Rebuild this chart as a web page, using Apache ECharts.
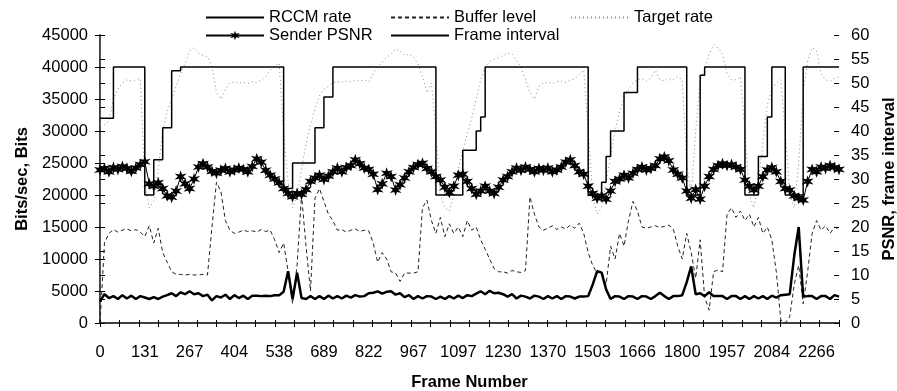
<!DOCTYPE html>
<html>
<head>
<meta charset="utf-8">
<script src="https://cdn.jsdelivr.net/npm/echarts@6/dist/echarts.min.js"></script>
<style>
html,body{margin:0;padding:0;background:#fff;}
#c{width:897px;height:391px;}
</style>
</head>
<body>
<div id="c"></div>
<script>
// ---- tick labels on the frame axis (every 10th category) ----
const xTickLabels = ['0','131','267','404','538','689','822','967','1097','1230','1370','1503','1666','1800','1957','2084','2266'];
const categoryCount = 166;

// ---- series values (one value per category) ----
const rccmRate = [
32000,32000,32000,40000,40000,40000,40000,40000,40000,40000,
20000,20000,25500,25500,30500,30500,39400,39400,40000,40000,
40000,40000,40000,40000,40000,40000,40000,40000,40000,40000,
40000,40000,40000,40000,40000,40000,40000,40000,40000,40000,
40000,21000,21000,25000,25000,25000,25000,25000,30500,30500,
35300,35300,40000,40000,40000,40000,40000,40000,40000,40000,
40000,40000,40000,40000,40000,40000,40000,40000,40000,40000,
40000,40000,40000,40000,40000,20000,20000,20000,20000,20000,
20000,27000,27000,27000,30000,32200,40000,40000,40000,40000,
40000,40000,40000,40000,40000,40000,40000,40000,40000,40000,
40000,40000,40000,40000,40000,40000,40000,40000,40000,20000,
20000,20000,22000,26000,30000,30000,30000,36000,36000,36000,
40000,40000,40000,40000,40000,40000,40000,40000,40000,40000,
40000,20000,20000,20000,38700,40000,40000,40000,40000,40000,
40000,40000,40000,40000,20000,20000,20000,26000,26000,32200,
40000,40000,40000,20000,20000,20000,20000,40000,40000,40000,
40000,40000,40000,40000,40000,40000];

const bufferLevel = [
0,12500,14000,14600,14200,14500,14700,14400,14600,14200,
13500,15200,12500,14800,11000,9500,8000,7600,7600,7500,
7600,7500,7500,7600,7500,15000,22000,20500,16000,14500,
14000,14200,14500,14300,14400,14200,14600,14300,14500,13000,
11000,12500,8000,3000,9000,20000,12000,5000,19500,21000,
19000,17000,16000,14500,14600,14200,14500,14700,14300,14500,
14400,12500,9500,11000,10000,8000,7800,6500,7800,7800,
7800,8000,18000,19200,16000,14000,16500,13500,15500,14000,
15000,13500,16000,14500,15000,13000,11500,10000,8500,8000,
8000,7800,8200,8000,7900,8200,19700,17000,15000,14500,
14800,15200,14600,15000,14700,15300,14800,15600,14000,11000,
9000,7800,8000,6000,12000,10000,14000,12000,16000,19000,
17500,15000,14800,15000,15200,14900,15100,15300,14700,12000,
10000,14000,11000,7000,13000,4000,2000,8000,8300,8000,
17000,18000,16500,17500,16000,17000,15000,16500,14000,15000,
13000,8000,500,0,1000,6000,9000,3000,8000,14000,
16000,14500,15200,14000,15000,14600];

const targetRate = [
31000,31000,31500,35000,36500,37500,38000,37800,38000,38200,
22000,18000,19000,24000,30000,33000,35000,37000,39000,40500,
42500,43000,42200,41800,41600,40000,36000,35000,36500,37500,
37700,37500,37600,37400,37700,37600,38000,38500,39500,40200,
40600,30000,22000,18000,20000,24000,28000,31000,33500,35500,
36500,37000,37500,37700,37600,37800,37700,37900,37800,38000,
37700,39000,40000,40800,41500,42000,42800,42500,41800,42000,
41500,40500,38500,36000,37500,30000,20000,18000,17500,20000,
24000,27000,29500,32000,35000,38000,40000,40800,41200,41500,
41800,42200,42000,41000,40000,38000,36000,35000,37000,37500,
37600,37400,37700,37800,37600,37900,38200,38800,39500,30000,
20000,17000,18000,22000,26000,30000,33000,35000,36500,37500,
38000,38200,37800,38300,39500,38000,37800,38200,38000,38500,
38000,25000,20000,30000,38000,39500,42000,43500,43000,42000,
39000,38000,38000,38500,30000,20000,18000,22000,28000,34000,
36500,37500,38000,30000,20000,18000,25000,36000,41000,43000,
42500,39000,38000,37800,38200,38500];

const senderPsnr = [
31.9,32.2,31.5,32.4,32.0,32.6,32.2,31.6,32.3,33.0,
33.6,29.0,28.5,29.2,28.0,26.5,26.2,27.5,30.5,29.0,
28.0,30.0,32.5,33.2,32.5,31.6,31.2,31.8,32.2,31.5,
31.9,32.3,32.0,31.5,32.6,34.2,33.5,31.8,30.8,30.0,
29.2,28.0,27.0,26.3,27.0,26.8,27.8,29.5,30.2,30.8,
29.9,30.6,31.5,32.3,31.5,32.4,32.8,34.0,33.2,32.3,
32.0,31.0,27.8,29.0,31.2,30.5,27.7,28.8,30.2,31.5,
32.4,33.0,33.3,32.2,31.5,30.5,29.8,28.3,27.2,28.5,
30.8,31.0,29.5,28.0,26.8,27.5,28.5,27.5,27.0,28.3,
29.8,30.5,31.5,32.3,31.8,32.5,32.0,31.5,32.2,31.8,
32.3,31.5,31.9,32.5,33.5,34.0,32.8,31.5,31.0,28.5,
27.0,26.0,26.5,25.8,27.5,29.5,30.0,30.8,30.2,31.2,
32.0,32.5,31.9,32.2,32.8,34.2,34.6,33.8,31.9,31.0,
30.2,27.5,26.0,27.8,25.8,28.5,30.5,32.0,32.8,33.2,
32.8,33.0,32.5,32.0,29.8,28.5,27.7,28.5,30.5,31.9,
32.4,31.5,29.5,28.0,27.7,26.5,26.0,25.6,29.5,32.0,
31.5,32.5,32.2,32.8,32.4,32.0];

const frameInterval = [
4.5,6.0,5.2,5.6,5.0,5.8,5.1,5.7,5.0,5.6,
5.3,5.0,5.4,5.0,5.5,5.8,6.2,5.6,6.4,6.0,
6.6,6.0,6.2,5.6,5.9,4.7,5.6,5.3,5.9,5.0,
5.8,5.2,5.7,5.0,5.7,5.7,5.6,5.7,5.6,5.8,
5.8,6.5,10.8,5.0,10.5,5.2,5.0,5.6,5.0,5.6,
5.0,5.7,5.1,5.6,5.1,5.7,5.3,5.8,5.5,5.6,
6.2,6.3,6.6,6.1,6.5,6.6,5.9,6.2,5.4,5.8,
5.0,5.6,5.1,5.6,5.5,5.0,5.5,5.0,5.6,5.1,
5.7,5.2,5.8,5.6,6.1,6.6,6.0,6.7,6.2,6.3,
6.0,5.5,6.0,5.1,5.7,5.5,5.1,5.7,5.5,5.0,
5.6,5.1,5.6,5.0,5.6,5.5,5.1,5.5,5.5,5.6,
8.0,10.8,10.5,7.0,5.0,5.6,5.5,5.0,5.6,5.5,
5.0,5.6,5.5,5.0,5.6,6.3,5.6,5.0,5.6,5.6,
5.8,8.5,11.8,6.0,6.2,5.6,6.4,5.6,5.6,5.6,
5.0,5.6,5.6,5.0,5.6,5.0,5.6,5.1,5.6,5.0,
5.7,5.3,5.8,5.9,6.0,14.0,20.0,5.5,5.6,5.6,
5.0,5.6,5.6,5.0,5.8,5.5];

// ---- build category labels from the tick labels ----
const categories = [];
for (let i = 0; i < categoryCount; i++) {
  categories.push(i % 10 === 0 && xTickLabels[i / 10] !== undefined ? xTickLabels[i / 10] : '');
}

const FONT = '"Liberation Sans", Arial, Helvetica, sans-serif';
const FS = 16.5;
const starPath = 'path://M0,-10 L2,-3.46 L8.66,-5 L4,0 L8.66,5 L2,3.46 L0,10 L-2,3.46 L-8.66,5 L-4,0 L-8.66,-5 L-2,-3.46 Z';

const chart = echarts.init(document.getElementById('c'), null, {renderer: 'canvas'});
const black = '#000';
const legendBase = {padding: 0, itemWidth: 58, itemHeight: 12, selectedMode: false,
  textStyle: {fontFamily: FONT, fontSize: FS, color: black}};
const noSymbol = {itemStyle: {opacity: 0}};

chart.setOption({
  animation: false,
  backgroundColor: '#fff',
  grid: {left: 100, right: 58, top: 35, bottom: 68, containLabel: false, outerBoundsMode: 'none'},
  legend: [
    Object.assign({}, legendBase, noSymbol, {data: ['RCCM rate'], left: 205, top: 9}),
    Object.assign({}, legendBase, {data: ['Sender PSNR'], left: 205, top: 27}),
    Object.assign({}, legendBase, noSymbol, {data: ['Buffer level'], left: 390, top: 9}),
    Object.assign({}, legendBase, noSymbol, {data: ['Frame interval'], left: 390, top: 27}),
    Object.assign({}, legendBase, noSymbol, {data: ['Target rate'], left: 570, top: 9})
  ],
  xAxis: [
    {type: 'category', data: categories, boundaryGap: false,
     name: 'Frame Number', nameLocation: 'middle', nameGap: 51,
     nameTextStyle: {fontFamily: FONT, fontSize: FS, fontWeight: 'bold', color: black},
     axisLine: {lineStyle: {color: black, width: 1.5}},
     axisTick: {show: false},
     axisLabel: {interval: 9, margin: 21, fontFamily: FONT, fontSize: FS, color: black},
     splitLine: {show: false}},
    {type: 'value', min: 0, max: 38, interval: 1, position: 'bottom',
     axisLine: {show: false}, axisLabel: {show: false}, splitLine: {show: false},
     axisTick: {show: true, length: 4, lineStyle: {color: black, width: 1}}},
    {type: 'value', min: 0, max: 38, interval: 1, position: 'bottom',
     axisLine: {show: false}, axisLabel: {show: false}, splitLine: {show: false},
     axisTick: {show: true, inside: true, length: 3, lineStyle: {color: black, width: 1}}}
  ],
  yAxis: [
    {type: 'value', min: 0, max: 45000, interval: 5000, position: 'left',
     name: 'Bits/sec, Bits', nameLocation: 'middle', nameGap: 66, nameRotate: 90,
     nameTextStyle: {fontFamily: FONT, fontSize: FS, fontWeight: 'bold', color: black},
     axisLine: {show: true, lineStyle: {color: black, width: 1.5}},
     axisTick: {show: true, length: 5, lineStyle: {color: black, width: 1}},
     axisLabel: {margin: 12, fontFamily: FONT, fontSize: FS, color: black, formatter: v => String(v)},
     splitLine: {show: false}},
    {type: 'value', min: 0, max: 60, interval: 5, position: 'right',
     name: 'PSNR, frame interval', nameLocation: 'middle', nameGap: 42, nameRotate: 90,
     nameTextStyle: {fontFamily: FONT, fontSize: FS, fontWeight: 'bold', color: black},
     axisLine: {show: true, lineStyle: {color: '#555', width: 1}},
     axisTick: {show: true, length: 5, lineStyle: {color: black, width: 1}},
     axisLabel: {margin: 12, fontFamily: FONT, fontSize: FS, color: black, formatter: v => String(v)},
     splitLine: {show: false}},
    {type: 'value', min: 0, max: 45000, interval: 5000, position: 'left',
     axisLine: {show: false}, axisLabel: {show: false}, splitLine: {show: false},
     axisTick: {show: true, inside: true, length: 5, lineStyle: {color: black, width: 1}}},
    {type: 'value', min: 0, max: 60, interval: 5, position: 'right',
     axisLine: {show: false}, axisLabel: {show: false}, splitLine: {show: false},
     axisTick: {show: true, inside: true, length: 5, lineStyle: {color: black, width: 1}}}
  ],
  series: [
    {name: 'Target rate', type: 'line', xAxisIndex: 0, yAxisIndex: 0, data: targetRate,
     symbol: 'none', color: '#8a8a8a',
     lineStyle: {color: '#8a8a8a', width: 1, type: [1, 3]}},
    {name: 'Buffer level', type: 'line', xAxisIndex: 0, yAxisIndex: 0, data: bufferLevel,
     symbol: 'none', color: '#222',
     lineStyle: {color: '#222', width: 1, type: [4, 3]}},
    {name: 'RCCM rate', type: 'line', xAxisIndex: 0, yAxisIndex: 0, data: rccmRate,
     step: 'end', symbol: 'none', color: black,
     lineStyle: {color: black, width: 1.5}},
    {name: 'Sender PSNR', type: 'line', xAxisIndex: 0, yAxisIndex: 1, data: senderPsnr,
     symbol: starPath, symbolSize: 12, showSymbol: true, showAllSymbol: true, color: black,
     itemStyle: {color: black}, lineStyle: {color: black, width: 1}},
    {name: 'Frame interval', type: 'line', xAxisIndex: 0, yAxisIndex: 1, data: frameInterval,
     symbol: 'none', color: black,
     lineStyle: {color: black, width: 2.5}}
  ]
});
</script>
</body>
</html>
